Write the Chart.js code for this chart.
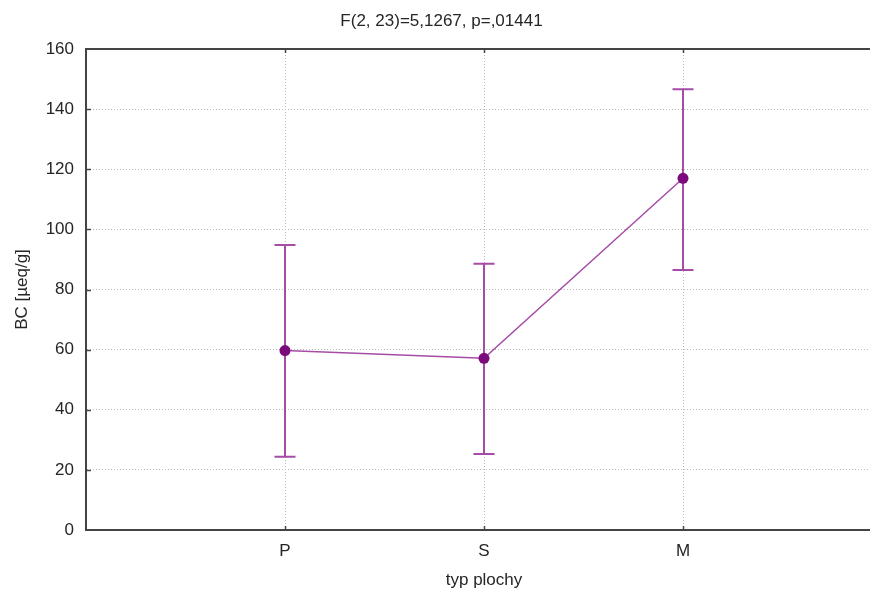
<!DOCTYPE html>
<html>
<head>
<meta charset="utf-8">
<script src="https://cdn.jsdelivr.net/npm/chart.js@4/dist/chart.umd.min.js"></script>
<style>
  html, body { margin: 0; padding: 0; background: #fff; overflow: hidden; }
  #wrap { width: 870px; height: 592px; overflow: hidden; }
  canvas { display: block; }
</style>
</head>
<body>
<div id="wrap"><canvas id="c" width="893" height="592"></canvas></div>
<script>
// Group means of BC with their interval bounds, per surface type
const categories = ['P', 'S', 'M'];
const means = [59.7, 57.1, 117.0];
const upper = [94.8, 88.6, 146.6];
const lower = [24.4, 25.3, 86.5];
const yTicks = [0, 20, 40, 60, 80, 100, 120, 140, 160];

const FONT = 'Liberation Sans, Arial, sans-serif';
const TEXT = '#262626';
const AXIS = '#444444';
const GRID = '#bababa';
const LINE = '#a64ca6';
const MARK = '#7c0a7c';

const points = means.map((v, i) => ({ x: i + 1, y: v }));

// Vertical whiskers with caps, plus the frame line and inward tick marks
const decorations = {
  id: 'decorations',
  beforeDatasetsDraw(chart) {
    const { ctx, scales: { x, y } } = chart;
    ctx.save();
    ctx.strokeStyle = LINE;
    ctx.lineWidth = 2;
    categories.forEach((c, i) => {
      const px = x.getPixelForValue(i + 1);
      const pt = y.getPixelForValue(upper[i]);
      const pb = y.getPixelForValue(lower[i]);
      ctx.beginPath();
      ctx.moveTo(px, pt); ctx.lineTo(px, pb);
      ctx.moveTo(px - 10.5, pt); ctx.lineTo(px + 10.5, pt);
      ctx.moveTo(px - 10.5, pb); ctx.lineTo(px + 10.5, pb);
      ctx.stroke();
    });
    ctx.restore();
  },
  afterDraw(chart) {
    const { ctx, chartArea: a, scales: { x, y } } = chart;
    ctx.save();
    ctx.strokeStyle = AXIS;
    ctx.lineWidth = 2;
    ctx.beginPath();
    ctx.moveTo(a.left - 1, a.top);
    ctx.lineTo(chart.width, a.top);
    ctx.stroke();
    ctx.lineWidth = 1.5;
    ctx.beginPath();
    yTicks.slice(1, -1).forEach(v => {
      const py = Math.round(y.getPixelForValue(v)) + 0.5;
      ctx.moveTo(a.left, py); ctx.lineTo(a.left + 5, py);
    });
    categories.forEach((c, i) => {
      const px = Math.round(x.getPixelForValue(i + 1)) + 0.5;
      ctx.moveTo(px, a.top); ctx.lineTo(px, a.top + 4);
      ctx.moveTo(px, a.bottom); ctx.lineTo(px, a.bottom - 4);
    });
    ctx.stroke();
    ctx.restore();
  }
};

new Chart(document.getElementById('c'), {
  type: 'line',
  data: {
    datasets: [{
      data: points,
      borderColor: LINE,
      borderWidth: 1.5,
      pointRadius: 5.5,
      pointHoverRadius: 5.5,
      pointBackgroundColor: MARK,
      pointBorderColor: MARK,
      pointBorderWidth: 0,
      tension: 0,
      fill: false
    }]
  },
  options: {
    responsive: false,
    animation: false,
    events: [],
    layout: { padding: { left: 0, right: 10, top: 0, bottom: 0 } },
    plugins: {
      legend: { display: false },
      tooltip: { enabled: false },
      title: {
        display: true,
        text: 'F(2, 23)=5,1267, p=,01441',
        color: TEXT,
        font: { family: FONT, size: 17, weight: 'normal' },
        padding: { top: 11, bottom: 17.6 }
      }
    },
    scales: {
      x: {
        type: 'linear',
        min: 0,
        max: 4,
        afterFit(s) { s.height = 62; },
        ticks: {
          stepSize: 1,
          autoSkip: false,
          maxRotation: 0,
          padding: 11,
          color: TEXT,
          font: { family: FONT, size: 17 },
          callback: v => categories[v - 1] || ''
        },
        grid: { drawTicks: false, color: GRID, lineWidth: 1 },
        border: { display: true, color: AXIS, width: 2, dash: [1, 2] },
        title: {
          display: true,
          text: 'typ plochy',
          color: TEXT,
          font: { family: FONT, size: 17 },
          padding: { top: 0, bottom: 1.8 }
        }
      },
      y: {
        min: 0,
        max: 160,
        afterFit(s) { s.width = 86; },
        afterBuildTicks(s) { s.ticks = yTicks.map(v => ({ value: v })); },
        ticks: {
          padding: 12,
          color: TEXT,
          font: { family: FONT, size: 17 }
        },
        grid: { drawTicks: false, color: GRID, lineWidth: 1 },
        border: { display: true, color: AXIS, width: 2, dash: [1, 2] },
        title: {
          display: true,
          text: 'BC [µeq/g]',
          color: TEXT,
          font: { family: FONT, size: 17 },
          padding: { top: 11.8, bottom: 0 }
        }
      }
    }
  },
  plugins: [decorations]
});
</script>
</body>
</html>
